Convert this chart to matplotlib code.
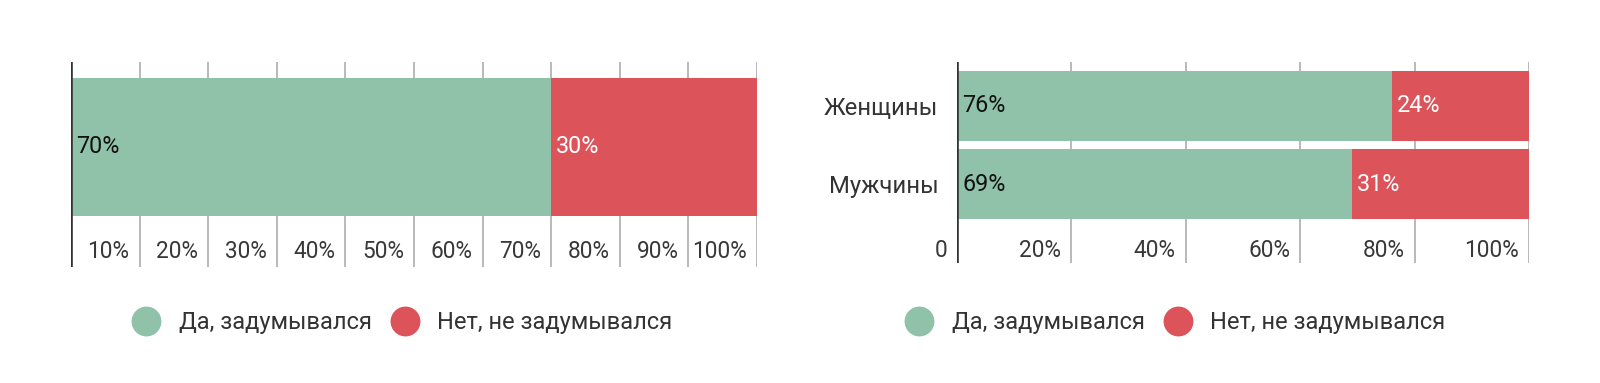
import matplotlib
matplotlib.use("Agg")
import matplotlib.pyplot as plt
import matplotlib.transforms as mtransforms
from matplotlib.lines import Line2D

plt.rcParams['font.family'] = ['Roboto', 'DejaVu Sans']

# ---- data ----
series_names = ["Да, задумывался", "Нет, не задумывался"]
colors = ["#90c2a9", "#dc535a"]

overall_yes = [70]
overall_no = [30]
left_ticks = [10, 20, 30, 40, 50, 60, 70, 80, 90, 100]
left_tick_labels = ["10%", "20%", "30%", "40%", "50%", "60%", "70%", "80%", "90%", "100%"]

groups = ["Мужчины", "Женщины"]
group_yes = [69, 76]
group_no = [31, 24]
right_ticks = [0, 20, 40, 60, 80, 100]
right_tick_labels = ["0", "20%", "40%", "60%", "80%", "100%"]

W, H = 1600, 383
fig = plt.figure(figsize=(W / 100, H / 100), dpi=100)

def px_axes(x0, x1, ytop, ybot):
    return fig.add_axes([x0 / W, (H - ybot) / H, (x1 - x0) / W, (ybot - ytop) / H])

grid_c = "#a6a6a6"
tick_c = "#383838"

def style(ax, ticks, labels, label_y):
    for s in ax.spines.values():
        s.set_visible(False)
    ax.set_xlim(0, 100)
    ax.set_xticks([])
    for t in ticks:
        if t == 0:
            continue
        ax.axvline(t, color=grid_c, lw=1.1, zorder=0)
    ax.axvline(0, color="#333333", lw=2.6, zorder=5)
    trans = mtransforms.blended_transform_factory(ax.transData, ax.transAxes)
    trans = mtransforms.offset_copy(trans, fig=fig, x=-10, y=0, units='dots')
    for t, lab in zip(ticks, labels):
        ax.text(t, label_y, lab, transform=trans, ha='right', va='center',
                fontsize=16.3, color=tick_c)

def value_labels(ax, ys, starts, vals, color):
    trans = mtransforms.offset_copy(ax.transData, fig=fig, x=5, y=0, units='dots')
    for y, s, v in zip(ys, starts, vals):
        ax.text(s, y, f"{v}%", transform=trans, ha='left', va='center',
                fontsize=16.8, color=color, zorder=6)

# ---- left chart ----
axL = px_axes(71, 757, 62, 267)
ypos = [0]
axL.barh(ypos, overall_yes, height=1.0, color=colors[0], zorder=2)
axL.barh(ypos, overall_no, left=overall_yes, height=1.0, color=colors[1], zorder=2)
axL.set_ylim(-0.872, 0.614)
axL.set_yticks([])
style(axL, left_ticks, left_tick_labels, 0.075)
value_labels(axL, ypos, [0], overall_yes, "#111111")
value_labels(axL, ypos, overall_yes, overall_no, "white")

# ---- right chart ----
axR = px_axes(957, 1529, 62, 262.7)
gpos = list(range(len(groups)))
axR.barh(gpos, group_yes, height=0.892, color=colors[0], zorder=2)
axR.barh(gpos, group_no, left=group_yes, height=0.892, color=colors[1], zorder=2)
axR.set_ylim(-1.0, 1.557)
axR.set_yticks(gpos, groups)
axR.tick_params(axis='y', length=0, pad=13.5, labelsize=17.2, labelcolor="#333333")
style(axR, right_ticks, right_tick_labels, 0.063)
value_labels(axR, gpos, [0] * len(groups), group_yes, "#111111")
value_labels(axR, gpos, group_yes, group_no, "white")

# ---- legends ----
handles = [Line2D([], [], marker='o', linestyle='none', markersize=20.5,
                  markerfacecolor=c, markeredgecolor=c) for c in colors]
for cx in (402.5, 1175.5):
    fig.legend(handles, series_names, loc='center', bbox_to_anchor=(cx / W, 1 - 323 / H),
               ncol=2, frameon=False, fontsize=17, handlelength=1.2,
               handletextpad=0.76, columnspacing=0.83, labelcolor="#333333",
               borderpad=0, borderaxespad=0)

fig.savefig("out.png", dpi=100, facecolor="white")
